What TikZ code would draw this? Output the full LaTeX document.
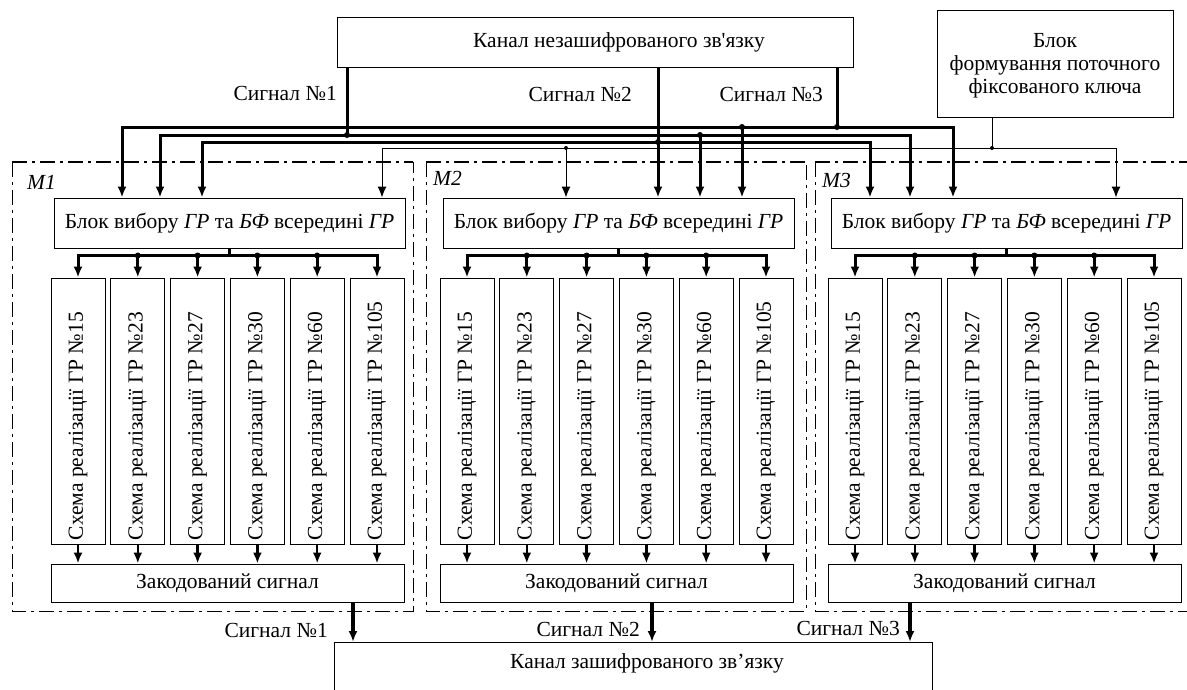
\documentclass[tikz,border=0pt]{standalone}
\usepackage{fontspec}
\setmainfont{Liberation Serif}
\usetikzlibrary{arrows.meta,calc}
\newcommand\fsz{\fontsize{21.5}{23}\selectfont}
\begin{document}
\begin{tikzpicture}[x=1pt,y=-1pt,
  box/.style={draw,line width=1pt,inner sep=0pt,font=\fsz},
  txt/.style={inner sep=0pt,font=\fsz},
  coltext/.style={txt,rotate=90,anchor=west},
  sig/.style={line width=3pt},
  thinline/.style={line width=1pt},
  ddthin/.style={line width=0.9pt,dash pattern=on 15pt off 5pt on 3pt off 5pt},
  ddthick/.style={line width=2pt,dash pattern=on 15pt off 5pt on 3pt off 5pt},
  >={Latex[length=11pt,width=9pt]},
]
\clip (0,0) rectangle (1187,689);
\fill[white] (0,0) rectangle (1187,689);

% modules
\foreach \m/\xo in {1/51,2/440,3/828}{
  \node[box,minimum width=351pt,minimum height=50pt] (blk\m) at (\xo+178.5,223) {Блок вибору \textit{ГР} та \textit{БФ} всередині \textit{ГР}};
  \node[box,minimum width=353pt,minimum height=38pt] (zak\m) at (\xo+176.5,583) {Закодований сигнал};
  \foreach \i/\n in {0/15,1/23,2/27,3/30,4/60,5/105}{
    \node[box,minimum width=54pt,minimum height=266pt] (c\m\i) at (\xo+27+59.8*\i,411) {};
    \node[coltext] at ($(c\m\i.south)+(0,-4)$) {Схема реалізації ГР №\n};
    \draw[line width=2.5pt,->] (c\m\i.south) -- (c\m\i.south |- zak\m.north);
  }
  \draw[sig] (blk\m.south) -- ++(0,8);
  \draw[sig,<->] (c\m0.north) -- ++(0,-22) -| (c\m5.north);
  \foreach \i in {1,2,3,4}{
    \draw[sig,->] ($(c\m\i.north)+(0,-22)$) -- (c\m\i.north);
    \fill ($(c\m\i.north)+(0,-22)$) circle (3pt);
  }
}

% module frames
\draw[ddthin] (12,162) -- (12,611) -- (413,611) -- (413,162);
\draw[ddthick] (12,162) -- (413,162);
\draw[ddthin] (426,162) -- (426,611) -- (806,611) -- (806,162);
\draw[ddthick] (426,162) -- (806,162);
\draw[ddthin] (815,162) -- (815,611) -- (1195,611);
\draw[ddthick] (815,162) -- (1195,162);
\node[txt,anchor=west] at (27,182) {\textit{M1}};
\node[txt,anchor=west] at (433,178) {\textit{M2}};
\node[txt,anchor=west] at (822,180) {\textit{M3}};

% top
\node[box,minimum width=516pt,minimum height=50pt] (top) at (595,42) {};
\node[txt] at (619,42) {Канал незашифрованого зв\textquotesingle язку};
\node[box,minimum width=236pt,minimum height=107pt] (key) at (1055,63.5) {};
\node[txt,align=center] at (1055,66) {Блок\\формування поточного\\фіксованого ключа};

\coordinate (j1) at (347,135);
\coordinate (j2) at (658,142);
\coordinate (j3) at (837,127);
\coordinate (a1) at (122,127);
\coordinate (a2) at (742,127);
\coordinate (a3) at (953,127);
\coordinate (b1) at (160,135);
\coordinate (b2) at (700,135);
\coordinate (b3) at (910,135);
\coordinate (cc1) at (202,142);
\coordinate (cc3) at (870,142);
\coordinate (d1) at (382,148);
\coordinate (d2) at (566,148);
\coordinate (d3) at (1116,148);
\coordinate (k) at (992,148);

% thin key line
\draw[thinline,<->] (blk1.north -| d1) -- (d1) -- (d3) -- (blk3.north -| d3);
\draw[thinline,->] (d2) -- (blk2.north -| d2);
\fill (d2) circle (2pt);
\draw[thinline] (key.south -| k) -- (k);
\fill (k) circle (2pt);

% thick buses
\draw[sig,<->] (blk1.north -| a1) -- (a1) -- (a3) -- (blk3.north -| a3);
\draw[sig,<->] (blk1.north -| b1) -- (b1) -- (b3) -- (blk3.north -| b3);
\draw[sig,<->] (blk1.north -| cc1) -- (cc1) -- (cc3) -- (blk3.north -| cc3);
\draw[sig,->] (a2) -- (blk2.north -| a2);
\draw[sig,->] (b2) -- (blk2.north -| b2);
\fill (a2) circle (3pt);
\fill (b2) circle (3pt);

% signals from top
\draw[sig] (top.south -| j1) -- (j1);
\fill (j1) circle (3pt);
\draw[sig,->] (top.south -| j2) -- (blk2.north -| j2);
\fill (j2) circle (3pt);
\draw[sig] (top.south -| j3) -- (j3);
\fill (j3) circle (3pt);
\node[txt,anchor=east] at (337,93) {Сигнал №1};
\node[txt,anchor=east] at (632,94) {Сигнал №2};
\node[txt,anchor=east] at (823,94) {Сигнал №3};

% bottom
\node[box,minimum width=598pt,minimum height=80pt,anchor=north west] (bot) at (334,642) {};
\node[txt] at (647,663) {Канал зашифрованого зв’язку};
\coordinate (o1) at (353,0);
\coordinate (o2) at (652,0);
\coordinate (o3) at (910,0);
\draw[line width=3.5pt,->] (zak1.south -| o1) -- (bot.north -| o1);
\draw[line width=3.5pt,->] (zak2.south -| o2) -- (bot.north -| o2);
\draw[line width=3.5pt,->] (zak3.south -| o3) -- (bot.north -| o3);
\node[txt,anchor=east] at (328,630) {Сигнал №1};
\node[txt,anchor=east] at (640,629) {Сигнал №2};
\node[txt,anchor=east] at (900,628) {Сигнал №3};
\end{tikzpicture}
\end{document}
